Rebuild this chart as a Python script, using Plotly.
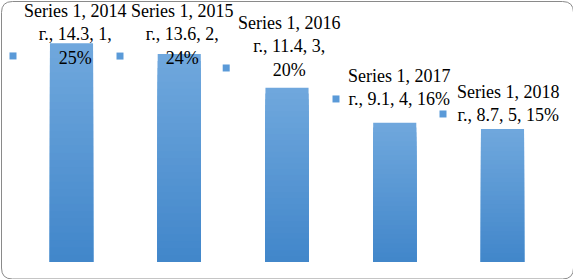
import plotly.graph_objects as go

# ---- data ----
categories = ["2014 г.", "2015 г.", "2016 г.", "2017 г.", "2018 г."]
values = [14.3, 13.6, 11.4, 9.1, 8.7]
ranks = [1, 2, 3, 4, 5]
percents = [25, 24, 20, 16, 15]
series_name = "Series 1"

# ---- label layout (pixels relative to bar top; +y = down) ----
label_offsets = [(3.5, -9.0), (2.75, -19.6), (2.0, -41.3), (4.75, -35.8), (5.5, -25.9)]
label_three_lines = [True, True, True, False, False]
key_offsets = [(-58.5, 12.6), (-59.25, 2.0), (-60.8, -19.7), (-58.75, -23.9), (-59.5, -15.0)]

W, H = 573, 279
top_rgb = (112, 168, 221)
bot_rgb = (65, 134, 202)
key_color = "#5A9AD8"

fig = go.Figure()

# gradient bars: overlaid bars of decreasing height, each a bit darker
N = 30
for k in range(N):
    t = (k + 0.5) / N
    c = tuple(round(top_rgb[j] + (bot_rgb[j] - top_rgb[j]) * t) for j in range(3))
    fig.add_trace(go.Bar(
        x=categories,
        y=[v * (N - k) / N for v in values],
        name=series_name,
        width=0.4,
        marker=dict(color="rgb(%d,%d,%d)" % c, line=dict(width=0)),
        hoverinfo="skip" if k else "x+y",
        showlegend=False,
    ))

# data labels
annotations = []
shapes = []
for i, (cat, v) in enumerate(zip(categories, values)):
    year = cat.split()[0]
    if label_three_lines[i]:
        txt = f"{series_name}, {year}<br>г., {v}, {ranks[i]},<br>{percents[i]}%"
    else:
        txt = f"{series_name}, {year}<br>г., {v}, {ranks[i]}, {percents[i]}%"
    dx, dy = label_offsets[i]
    annotations.append(dict(
        x=cat, y=v, xref="x", yref="y", text=txt, showarrow=False,
        xshift=dx, yshift=-dy, align="center",
        font=dict(family="Liberation Serif, Times New Roman, serif", size=18, color="black"),
    ))
    kx, ky = key_offsets[i]
    shapes.append(dict(
        type="rect", xref="x", yref="y",
        xsizemode="pixel", ysizemode="pixel", xanchor=cat, yanchor=v,
        x0=kx - 3.5, x1=kx + 3.5, y0=-ky - 3.5, y1=-ky + 3.5,
        fillcolor=key_color, line=dict(width=0),
    ))

# rounded chart border
def px(x):
    return x / W

def py(y):
    return 1 - y / H

x0, y0, x1, y1, r = 1.5, 1.5, 573.5, 279.0, 11
path = (
    f"M {px(x0 + r)},{py(y0)} L {px(x1 - r)},{py(y0)} "
    f"Q {px(x1)},{py(y0)} {px(x1)},{py(y0 + r)} "
    f"L {px(x1)},{py(y1 - r)} Q {px(x1)},{py(y1)} {px(x1 - r)},{py(y1)} "
    f"L {px(x0 + r)},{py(y1)} Q {px(x0)},{py(y1)} {px(x0)},{py(y1 - r)} "
    f"L {px(x0)},{py(y0 + r)} Q {px(x0)},{py(y0)} {px(x0 + r)},{py(y0)} Z"
)
shapes.append(dict(type="path", xref="paper", yref="paper", path=path,
                   line=dict(color="#8A8A8A", width=1), fillcolor="rgba(0,0,0,0)"))

cat_px = 107.75
first_center = 71.5
unit_px = 15.29
zero_py = 262

fig.update_layout(
    width=W, height=H,
    margin=dict(l=0, r=0, t=0, b=0),
    paper_bgcolor="white", plot_bgcolor="white",
    barmode="overlay",
    showlegend=False,
    xaxis=dict(visible=False, type="category", domain=[0, 1],
               range=[-first_center / cat_px, -first_center / cat_px + W / cat_px]),
    yaxis=dict(visible=False, domain=[0, 1],
               range=[-(H - zero_py) / unit_px, zero_py / unit_px]),
    annotations=annotations,
    shapes=shapes,
)

fig.write_html(
    "out.html",
    config={"displayModeBar": False},
    post_script="document.body.style.margin='0';document.body.style.overflow='hidden';",
)
